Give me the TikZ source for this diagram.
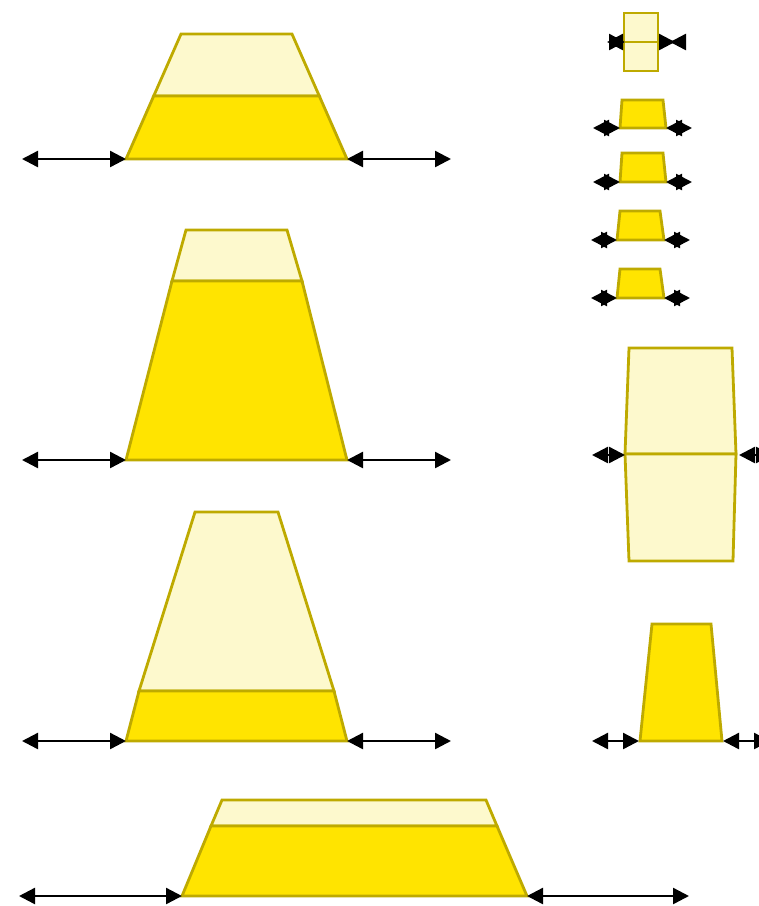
\documentclass[tikz,border=0pt]{standalone}
\usetikzlibrary{arrows.meta}
\definecolor{lightfill}{RGB}{253,249,205}
\definecolor{yelfill}{RGB}{255,228,0}
\definecolor{edge}{RGB}{190,170,0}
\tikzset{
  lightpart/.style={fill=lightfill,draw=edge,line width=2.8pt,line join=miter},
  yelpart/.style={fill=yelfill,draw=edge,line width=2.8pt,line join=miter},
  dimarrow/.style={line width=2.4pt,{Triangle[length=16pt,width=16pt]}-{Triangle[length=16pt,width=16pt]}},
  bowarrow/.style={line width=2.4pt,{Triangle[length=16pt,width=16pt,reversed]}-{Triangle[length=16pt,width=16pt,reversed]}}
}
\begin{document}
\begin{tikzpicture}[x=1pt,y=-1pt]
\useasboundingbox (0,0) rectangle (759,906);
\clip (0,0) rectangle (759,906);
% ---------- shape 1 ----------
\draw[lightpart] (181,34) -- (292,34) -- (319.3,96) -- (153.7,96) -- cycle;
\draw[yelpart] (153.7,96) -- (319.3,96) -- (347,159) -- (126,159) -- cycle;
\coordinate (s1l) at (126,159); \coordinate (s1r) at (347,159);
\coordinate (a1l) at (22,159);  \coordinate (a1r) at (451,159);
\draw[dimarrow] (a1l) -- (s1l);
\draw[dimarrow] (s1r) -- (a1r);
% ---------- shape 2 ----------
\draw[lightpart] (186,230) -- (287,230) -- (302,281) -- (172,281) -- cycle;
\draw[yelpart] (172,281) -- (302,281) -- (347,460) -- (126,460) -- cycle;
\coordinate (s2l) at (126,460); \coordinate (s2r) at (347,460);
\coordinate (a2l) at (22,460);  \coordinate (a2r) at (451,460);
\draw[dimarrow] (a2l) -- (s2l);
\draw[dimarrow] (s2r) -- (a2r);
% ---------- shape 3 ----------
\draw[lightpart] (195,512) -- (278,512) -- (334,691) -- (139,691) -- cycle;
\draw[yelpart] (139,691) -- (334,691) -- (347,741) -- (126,741) -- cycle;
\coordinate (s3l) at (126,741); \coordinate (s3r) at (347,741);
\coordinate (a3l) at (22,741);  \coordinate (a3r) at (451,741);
\draw[dimarrow] (a3l) -- (s3l);
\draw[dimarrow] (s3r) -- (a3r);
% ---------- shape 4 ----------
\draw[lightpart] (222,800) -- (486,800) -- (497,826) -- (211,826) -- cycle;
\draw[yelpart] (211,826) -- (497,826) -- (527,896) -- (182,896) -- cycle;
\coordinate (s4l) at (182,896); \coordinate (s4r) at (527,896);
\coordinate (a4l) at (19,896);  \coordinate (a4r) at (689,896);
\draw[dimarrow] (a4l) -- (s4l);
\draw[dimarrow] (s4r) -- (a4r);
% ---------- right column: small rectangle ----------
\draw[lightpart] (624,13) rectangle (658,42);
\draw[lightpart] (624,42) rectangle (658,71);
\coordinate (r0a) at (609,42); \coordinate (r0b) at (623,42);
\coordinate (r0c) at (659,42); \coordinate (r0d) at (686,42);
\draw[bowarrow] (r0a) -- (r0b);
\draw[bowarrow] (r0c) -- (r0d);
% ---------- right column: small trapezoids ----------
\draw[yelpart] (622,100) -- (663,100) -- (666,128) -- (620,128) -- cycle;
\coordinate (r1a) at (593,128); \coordinate (r1b) at (620,128);
\coordinate (r1c) at (666,128); \coordinate (r1d) at (692,128);
\draw[dimarrow] (r1a) -- (r1b);
\draw[dimarrow] (r1c) -- (r1d);
\draw[yelpart] (622,153) -- (663,153) -- (666,182) -- (620,182) -- cycle;
\coordinate (r2a) at (593,182); \coordinate (r2b) at (620,182);
\coordinate (r2c) at (666,182); \coordinate (r2d) at (692,182);
\draw[dimarrow] (r2a) -- (r2b);
\draw[dimarrow] (r2c) -- (r2d);
\draw[yelpart] (620,211) -- (660,211) -- (664,240) -- (617,240) -- cycle;
\coordinate (r3a) at (591,240); \coordinate (r3b) at (617,240);
\coordinate (r3c) at (664,240); \coordinate (r3d) at (690,240);
\draw[dimarrow] (r3a) -- (r3b);
\draw[dimarrow] (r3c) -- (r3d);
\draw[yelpart] (620,269) -- (660,269) -- (664,298) -- (617,298) -- cycle;
\coordinate (r4a) at (591,298); \coordinate (r4b) at (617,298);
\coordinate (r4c) at (664,298); \coordinate (r4d) at (690,298);
\draw[dimarrow] (r4a) -- (r4b);
\draw[dimarrow] (r4c) -- (r4d);
% ---------- right column: large light shape ----------
\draw[lightpart] (629,348) -- (732,348) -- (736,454) -- (625,454) -- cycle;
\draw[lightpart] (625,454) -- (736,454) -- (733,561) -- (629,561) -- cycle;
\coordinate (r5a) at (592,455); \coordinate (r5b) at (625,455);
\coordinate (r5c) at (739,455); \coordinate (r5d) at (772,455);
\draw[dimarrow] (r5a) -- (r5b);
\draw[dimarrow] (r5c) -- (r5d);
% ---------- right column: tall trapezoid ----------
\draw[yelpart] (652,624) -- (711,624) -- (722,741) -- (640,741) -- cycle;
\coordinate (r6a) at (592,741); \coordinate (r6b) at (639,741);
\coordinate (r6c) at (723,741); \coordinate (r6d) at (770,741);
\draw[dimarrow] (r6a) -- (r6b);
\draw[dimarrow] (r6c) -- (r6d);
\end{tikzpicture}
\end{document}
